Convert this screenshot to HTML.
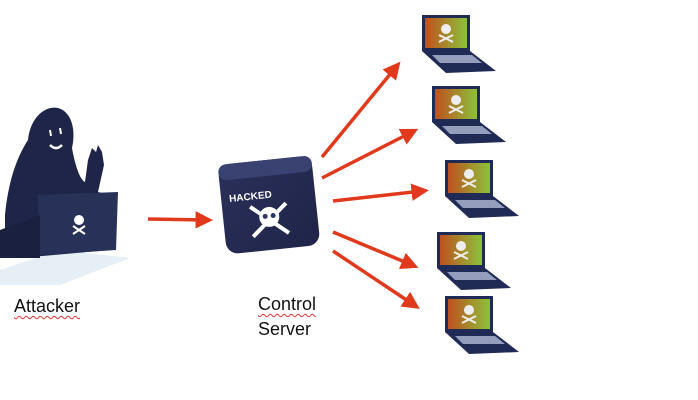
<!DOCTYPE html>
<html><head><style>
body{margin:0;width:698px;height:400px;background:#fff;overflow:hidden;position:relative;font-family:"Liberation Sans",sans-serif}
.t{position:absolute;font-size:18px;color:#111}
.u{text-decoration:underline wavy #d33;text-decoration-thickness:1px;text-underline-offset:3px}
</style></head><body>
<svg width="698" height="400" style="position:absolute;left:0;top:0">
<defs>
<linearGradient id="g" x1="0" y1="0" x2="1" y2="0"><stop offset="0" stop-color="#c0501e"/><stop offset="1" stop-color="#8cc23a"/></linearGradient>
<linearGradient id="s" x1="0" y1="0" x2="1" y2="1"><stop offset="0" stop-color="#2a305a"/><stop offset="1" stop-color="#1f2448"/></linearGradient>
<marker id="a" markerWidth="5" markerHeight="5" refX="3" refY="2.5" orient="auto"><path d="M0,0 L5,2.5 L0,5 Z" fill="#e0391c"/></marker>
<g id="lap">
<rect x="0" y="0" width="48" height="36" fill="#1f2a55"/>
<rect x="3" y="3" width="42" height="30" fill="url(#g)"/>
<circle cx="24" cy="14" r="5" fill="#eee"/>
<path d="M17,20 L31,27 M31,20 L17,27" stroke="#eee" stroke-width="2"/>
<path d="M0,36 L48,36 L74,56 L24,58 Z" fill="#1f2a55"/>
<path d="M10,40 L50,40 L60,48 L18,48 Z" fill="#c8d0e8" opacity=".7"/>
</g>
</defs>
<path d="M0,270 L60,250 L130,258 L60,285 L0,285Z" fill="#e6eef6"/>
<path d="M5,215 C8,185 15,160 28,140 C30,118 45,105 58,108 C72,112 76,130 72,148 C75,165 80,180 85,182 L88,160 L92,148 L96,152 L98,145 L102,152 L104,165 L98,192 L110,195 L110,250 L20,258 L5,240Z" fill="#1e2549"/>
<path d="M38,195 L118,192 L116,250 L40,255Z" fill="#283258"/>
<path d="M0,230 L40,215 L40,258 L0,258Z" fill="#1a2040"/>
<circle cx="79" cy="220" r="5" fill="#fff"/>
<path d="M73,226 L85,234 M85,226 L73,234" stroke="#fff" stroke-width="2"/>
<path d="M50,145 q6,6 12,0" stroke="#fff" stroke-width="2.5" fill="none"/>
<path d="M50,130 l1,6 M60,128 l1,6" stroke="#fff" stroke-width="2"/>
<g transform="rotate(-6 268 205)">
<rect x="222" y="160" width="94" height="90" rx="12" fill="url(#s)"/>
<rect x="222" y="160" width="94" height="16" rx="8" fill="#3a4272"/>
<text x="230" y="198" font-size="10" font-weight="bold" fill="#fff" font-family="Liberation Sans Narrow, Liberation Sans">HACKED</text>
<circle cx="268" cy="217" r="10" fill="#fff"/>
<path d="M250,205 L286,235 M286,205 L250,235" stroke="#fff" stroke-width="4"/>
<circle cx="264" cy="216" r="2.5" fill="#2f3766"/><circle cx="272" cy="216" r="2.5" fill="#2f3766"/>
</g>
<g stroke="#e0391c" stroke-width="3.5" marker-end="url(#a)">
<line x1="148" y1="219" x2="206" y2="220"/>
<line x1="322" y1="157" x2="396" y2="67"/>
<line x1="322" y1="178" x2="412" y2="132"/>
<line x1="333" y1="201" x2="422" y2="191"/>
<line x1="333" y1="232" x2="412" y2="265"/>
<line x1="333" y1="251" x2="414" y2="305"/>
</g>
<use href="#lap" x="422" y="15"/>
<use href="#lap" x="432" y="86"/>
<use href="#lap" x="445" y="160"/>
<use href="#lap" x="437" y="232"/>
<use href="#lap" x="445" y="296"/>
</svg>
<div class="t" style="left:14px;top:296px"><span class="u">Attacker</span></div>
<div class="t" style="left:258px;top:292px;line-height:25px"><span class="u">Control</span><br>Server</div>
</body></html>
